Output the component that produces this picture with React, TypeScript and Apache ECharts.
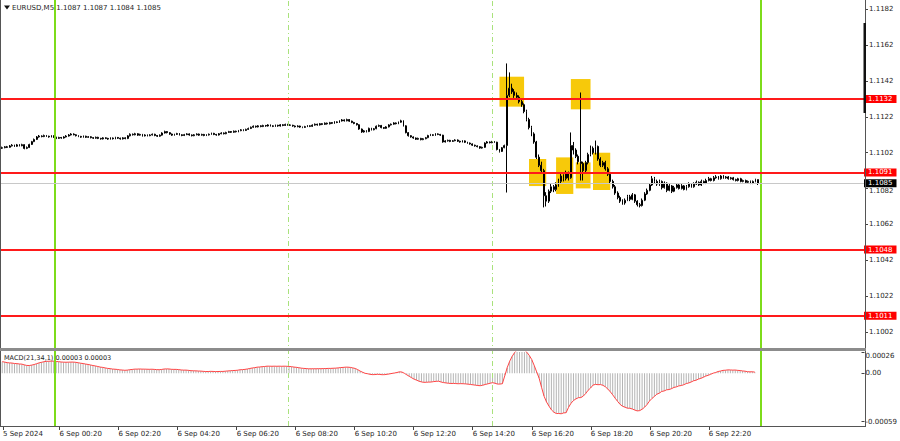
import React, { useEffect, useRef } from "react";
import * as echarts from "echarts";

// Prices are stored in pips above 1.1000 (price = 1.1000 + pips / 10000)
const BASE = 1.1;
const FIRST_OPEN = 104.5;

const closes = [
  104.8,105.3,105.0,105.8,106.2,105.6,106.4,105.9,106.5,
  104.4,104.9,
  106.6,108.2,109.4,110.8,
  111.3,111.0,111.6,111.2,110.8,111.4,110.6,
  110.0,110.5,110.2,110.8,111.3,
  111.9,112.4,112.0,111.5,111.1,
  110.7,111.2,110.6,110.9,110.4,110.1,110.6,110.0,109.7,110.3,110.0,109.6,110.2,109.8,110.5,110.1,109.7,110.3,109.9,
  111.4,112.3,112.0,112.6,
  111.8,112.2,111.4,111.9,111.5,111.9,112.3,111.6,111.2,111.8,
  113.0,113.8,113.2,
  112.4,111.8,112.2,112.7,112.0,111.6,112.1,112.5,111.9,111.5,112.0,112.4,111.8,112.2,111.6,111.9,112.3,112.8,112.2,111.9,112.6,
  113.0,112.6,113.3,113.8,113.4,114.0,113.7,114.3,114.8,114.4,115.0,115.5,
  116.2,116.8,116.4,117.0,116.6,117.2,116.9,117.5,117.0,116.7,117.3,116.9,117.6,117.2,117.8,
  117.5,117.3,116.9,116.5,116.9,116.3,116.1,
  116.6,117.0,116.7,117.4,117.9,117.5,118.2,117.8,118.5,118.1,118.8,118.4,119.2,118.9,119.7,120.3,
  119.8,120.5,119.6,118.9,118.3,117.6,
  115.2,113.6,114.2,113.8,
  115.6,114.8,115.4,116.8,
  117.2,116.0,115.6,116.4,
  117.5,117.9,118.6,118.2,119.0,119.8,
  117.0,113.2,111.5,
  110.8,110.2,109.5,110.0,109.3,109.8,110.4,
  111.6,112.0,111.7,112.5,112.2,111.8,
  108.0,
  108.6,108.9,108.3,108.7,109.1,108.4,108.0,108.6,107.8,107.4,
  106.9,106.2,105.8,105.4,104.6,105.0,
  107.4,108.0,107.6,108.2,107.9,
  103.8,102.7,104.8,106.0,
  134.0,138.0,136.0,134.0,133.0,130.5,128.8,125.0,120.5,116.0,
  112.5,108.0,99.5,95.0,92.0,78.0,75.0,80.5,83.0,81.5,
  84.0,86.0,89.0,87.5,90.5,88.0,106.0,103.5,100.0,97.0,
  96.0,92.0,96.5,101.0,104.5,102.0,105.5,98.5,95.0,96.5,
  93.0,90.0,86.0,83.0,79.5,77.0,75.0,74.0,75.5,77.5,
  76.0,78.5,75.0,73.0,72.5,75.5,79.0,81.0,84.0,87.5,
  86.0,84.5,86.0,82.5,85.0,81.0,83.5,80.5,82.5,84.0,
  82.0,83.5,81.5,83.0,84.5,83.0,84.5,85.5,84.0,86.0,
  85.0,86.5,87.5,86.5,88.0,88.5,87.5,89.0,88.0,88.5,
  87.5,88.0,87.0,86.5,87.5,86.0,86.5,85.5,86.0,85.0,
  86.0,87.0,85.0,
];

const highs = [
  105.4,105.7,105.8,106.3,106.8,106.5,106.9,106.8,107.0,
  106.7,105.5,
  107.0,108.6,109.9,111.3,
  111.9,111.7,112.1,111.9,111.5,111.8,111.7,
  110.9,110.9,110.8,111.2,111.8,
  112.4,112.9,112.8,112.3,111.8,
  111.4,111.6,111.5,111.3,111.2,110.7,111.0,110.9,110.3,110.7,110.6,110.3,110.6,110.5,110.9,110.8,110.4,110.7,110.6,
  111.8,112.8,112.7,113.1,
  112.9,112.6,112.5,112.3,112.2,112.3,112.7,112.6,111.9,112.2,
  113.4,114.3,114.1,
  113.5,112.7,112.6,113.1,113.0,112.3,112.5,112.9,112.8,112.2,112.4,112.8,112.7,112.6,112.5,112.3,112.7,113.2,113.1,112.5,113.0,
  113.4,113.3,113.7,114.2,114.1,114.4,114.3,114.7,115.2,115.1,115.4,116.0,
  116.6,117.2,117.1,117.4,117.3,117.6,117.5,117.9,117.8,117.3,117.7,117.6,118.0,117.9,118.2,
  118.1,117.9,117.6,117.2,117.3,117.1,116.6,
  117.0,117.4,117.3,117.8,118.3,118.2,118.6,118.5,118.9,118.8,119.2,119.1,119.6,119.5,120.1,120.8,
  120.6,121.0,120.8,119.9,119.2,118.6,
  117.9,115.5,114.7,114.6,
  116.0,115.9,115.8,117.2,
  117.7,117.5,116.3,116.8,
  117.9,118.3,119.0,118.9,119.4,120.4,
  120.1,117.3,113.5,
  111.8,111.1,110.5,110.4,110.3,110.2,110.8,
  112.0,112.5,112.3,112.9,112.8,112.5,
  112.0,
  109.0,109.3,109.2,109.1,109.5,109.4,108.7,109.0,108.9,108.1,
  107.7,107.2,106.5,106.1,105.7,105.4,
  107.8,108.5,108.3,108.6,108.5,
  108.1,104.1,105.2,106.5,
  151.8,146.8,140.5,137.5,135.6,134.0,131.5,129.5,126.0,121.5,
  117.0,113.4,108.6,101.0,97.0,93.0,80.0,81.5,84.5,84.0,
  85.5,87.5,90.5,90.0,92.0,91.5,113.3,108.0,104.5,101.0,
  135.6,97.0,97.5,102.0,106.0,105.5,108.8,106.0,99.5,97.5,
  97.5,94.0,91.0,87.0,84.0,80.5,78.0,76.0,76.5,78.5,
  78.5,79.5,79.0,75.5,74.0,76.5,80.0,82.0,85.0,89.0,
  88.5,87.0,87.0,86.5,86.0,85.5,84.5,84.0,83.5,85.0,
  84.5,84.5,84.0,84.0,85.5,85.0,85.5,86.5,86.0,87.0,
  86.5,87.5,88.5,88.0,89.0,89.5,89.0,89.5,89.5,89.0,
  89.0,88.5,88.5,87.5,88.0,88.0,87.0,87.0,86.5,86.5,
  86.5,87.5,87.0,
];

const lows = [
  104.1,104.5,104.6,104.8,105.5,105.2,105.3,105.5,105.6,
  103.9,104.0,
  104.6,106.3,107.9,109.1,
  110.4,110.6,110.7,110.8,110.4,110.5,110.2,
  109.6,109.7,109.8,109.9,110.5,
  111.0,111.6,111.7,111.1,110.7,
  110.3,110.4,110.2,110.3,110.0,109.7,109.8,109.6,109.3,109.4,109.6,109.2,109.3,109.4,109.5,109.7,109.3,109.4,109.5,
  109.6,111.1,111.6,111.7,
  111.4,111.5,111.0,111.1,111.1,111.2,111.6,111.2,110.8,110.9,
  111.5,112.7,112.8,
  112.0,111.4,111.5,111.9,111.6,111.2,111.3,111.8,111.5,111.1,111.2,111.7,111.4,111.5,111.2,111.3,111.6,112.0,111.8,111.5,111.6,
  112.3,112.2,112.3,113.0,113.0,113.1,113.3,113.4,114.0,114.0,114.1,114.7,
  115.2,115.9,116.0,116.1,116.2,116.3,116.5,116.6,116.6,116.3,116.4,116.5,116.6,116.8,116.9,
  117.1,116.9,116.5,116.1,116.2,115.9,115.7,
  115.8,116.3,116.3,116.4,117.1,117.1,117.2,117.4,117.5,117.7,117.8,118.0,118.1,118.5,118.6,119.4,
  119.4,119.5,119.2,118.5,117.9,117.2,
  114.8,113.1,113.2,113.3,
  113.5,114.4,114.5,115.1,
  116.4,115.6,115.2,115.3,
  116.1,117.2,117.6,117.8,117.9,118.7,
  116.6,112.8,111.0,
  110.4,109.8,109.1,109.2,108.9,109.0,109.5,
  110.1,111.3,111.3,111.4,111.8,111.4,
  107.6,
  107.7,108.2,107.9,108.0,108.4,108.0,107.6,107.7,107.4,107.0,
  106.5,105.8,105.4,105.0,104.2,104.3,
  104.7,107.1,107.2,107.3,107.5,
  103.3,102.1,102.4,104.5,
  79.8,133.0,134.8,132.6,131.5,129.5,127.6,124.0,119.5,115.0,
  111.2,107.0,98.5,94.0,90.5,71.5,72.0,74.0,79.5,80.0,
  80.5,83.0,85.0,86.0,86.5,86.5,87.5,101.0,99.0,95.5,
  86.5,86.5,91.0,95.5,100.0,101.0,101.0,97.5,94.0,94.0,
  92.0,89.0,85.0,82.0,78.5,76.0,74.0,73.0,73.0,75.0,
  75.0,75.5,74.0,72.0,71.5,72.0,75.0,78.5,80.5,83.5,
  85.0,83.5,83.5,81.5,82.0,80.0,80.5,79.5,80.0,82.0,
  81.5,81.5,81.0,81.0,82.5,82.5,82.5,84.0,83.5,83.5,
  84.5,84.5,86.0,86.0,86.0,87.5,87.0,87.0,87.5,87.5,
  87.0,87.0,86.5,86.0,86.0,85.5,85.5,85.0,85.0,84.5,
  84.5,85.5,84.0,
];

// MACD(21,34,1): EMA state carried in from before the visible window (pips)
const EMA_FAST_START = 104.5;
const EMA_SLOW_START = 103.0;
const FAST = 21;
const SLOW = 34;

const SLOT_COUNT = 351; // visible bar slots incl. the empty right margin
const START_MINUTE = 22 * 60 + 25; // 5 Sep 22:25, first visible bar

const tickIndex = [0, 23, 47, 71, 95, 119, 143, 167, 191, 215, 239, 263, 287];
const tickLabels = [
  "5 Sep 2024", "6 Sep 00:20", "6 Sep 02:20", "6 Sep 04:20", "6 Sep 06:20",
  "6 Sep 08:20", "6 Sep 10:20", "6 Sep 12:20", "6 Sep 14:20", "6 Sep 16:20",
  "6 Sep 18:20", "6 Sep 20:20", "6 Sep 22:20",
];

const levels = [1.1132, 1.1091, 1.1048, 1.1011];
const bidLevel = 1.1085;
const solidVLines = [21, 308];
const dashedVLines = [116, 199];
// [fromBar, toBar, lowPips, highPips]
const zones = [
  [202, 212, 127.7, 144.4],
  [231, 239, 126.2, 143.1],
  [214, 221, 83.4, 98.5],
  [225, 232, 79.0, 99.4],
  [233, 239, 82.1, 96.6],
  [240, 247, 81.2, 102.0],
];

const PRICE_MIN = 1.1002;
const PRICE_MAX = 1.1182;
const PRICE_STEP = 0.002;
const MACD_MIN = -0.00059;
const MACD_MAX = 0.00026;
const MACD_TEXT = "MACD(21,34,1) 0.00003 0.00003";

const FONT = '"DejaVu Sans", Tahoma, sans-serif';

const px = (p: number) => +(BASE + p / 10000).toFixed(5);

export default function App() {
  const ref = useRef<HTMLDivElement>(null);

  useEffect(() => {
    document.body.style.margin = "0";
    const el = ref.current;
    if (!el) return;
    const chart = echarts.init(el, null, { renderer: "svg" });

    const cats: string[] = [];
    for (let i = 0; i < SLOT_COUNT; i++) {
      const m = START_MINUTE + i * 5;
      const day = 5 + Math.floor(m / 1440);
      const mm = m % 1440;
      const hh = String(Math.floor(mm / 60)).padStart(2, "0");
      const mi = String(mm % 60).padStart(2, "0");
      cats.push(`${day} Sep ${hh}:${mi}`);
    }
    const labelMap = new Map<string, string>();
    tickIndex.forEach((idx, k) => labelMap.set(cats[idx], tickLabels[k]));
    const tickSet = new Set(tickIndex);

    const n = Math.min(closes.length, highs.length, lows.length);
    const candles: number[][] = [];
    for (let i = 0; i < n; i++) {
      const o = i === 0 ? FIRST_OPEN : closes[i - 1];
      const c = closes[i];
      const h = Math.max(highs[i], o, c);
      const l = Math.min(lows[i], o, c);
      candles.push([px(o), px(c), px(l), px(h)]);
    }

    const macd: number[] = [];
    let ef = EMA_FAST_START;
    let es = EMA_SLOW_START;
    const af = 2 / (FAST + 1);
    const as = 2 / (SLOW + 1);
    for (let i = 0; i < n; i++) {
      ef += af * (closes[i] - ef);
      es += as * (closes[i] - es);
      macd.push(+((ef - es) / 10000).toFixed(6));
    }

    const last = candles[candles.length - 1];
    const header = `EURUSD,M5 ${(last[0]).toFixed(4)} ${(last[3]).toFixed(4)} ${(last[2]).toFixed(4)} ${(last[1]).toFixed(4)}`;

    const axisText = { fontSize: 7, fontFamily: FONT, color: "#1e1e1e" };

    const tagLabel = (v: number, bg: string) => ({
      show: true,
      position: "end",
      distance: -1,
      formatter: () => v.toFixed(4),
      color: "#ffffff",
      backgroundColor: bg,
      padding: [0, 4, 0, 4],
      lineHeight: 8,
      fontSize: 7,
      fontFamily: FONT,
    });

    const option: any = {
      animation: false,
      backgroundColor: "#ffffff",
      grid: [
        { left: 1, right: 35, top: 0, height: 426 },
        { left: 1, right: 35, top: 9.3, height: 322.7 },
        { left: 1, right: 35, top: 352, height: 69.7 },
      ],
      xAxis: [
        {
          type: "category",
          gridIndex: 0,
          data: cats,
          boundaryGap: true,
          axisLine: { show: false },
          axisTick: {
            show: true,
            interval: (i: number) => tickSet.has(i),
            alignWithLabel: true,
            length: 4,
            lineStyle: { color: "#444" },
          },
          axisLabel: {
            ...axisText,
            interval: (i: number) => tickSet.has(i),
            formatter: (v: string) => labelMap.get(v) || "",
            align: "left",
            margin: 4,
          },
          splitLine: { show: false },
        },
        { type: "category", gridIndex: 1, data: cats, show: false, boundaryGap: true },
        { type: "category", gridIndex: 2, data: cats, show: false, boundaryGap: true },
      ],
      yAxis: [
        { type: "value", gridIndex: 0, min: 0, max: 1, show: false },
        {
          type: "value",
          gridIndex: 1,
          position: "right",
          min: PRICE_MIN,
          max: PRICE_MAX,
          interval: PRICE_STEP,
          axisLine: { show: false },
          axisTick: { show: true, length: 3, lineStyle: { color: "#444" } },
          splitLine: { show: false },
          axisLabel: {
            ...axisText,
            margin: 4,
            showMinLabel: true,
            showMaxLabel: true,
            formatter: (v: number) => {
              const s = v.toFixed(4);
              // the label just under the bid tag sits a little lower, as in the terminal
              return Math.abs(v - bidLevel) < 0.0005 ? `{b|${s}}` : s;
            },
            rich: { b: { fontSize: 7, fontFamily: FONT, color: "#1e1e1e", padding: [4, 0, 0, 0] } },
          },
        },
        {
          type: "value",
          gridIndex: 2,
          position: "right",
          min: MACD_MIN,
          max: MACD_MAX,
          interval: -MACD_MIN,
          axisLine: { show: false },
          axisTick: { show: true, length: 3, lineStyle: { color: "#444" } },
          splitLine: { show: false },
          axisLabel: {
            ...axisText,
            margin: 4,
            showMinLabel: true,
            showMaxLabel: true,
            formatter: (v: number) => {
              if (Math.abs(v) < 1e-9) return "0.00";
              if (Math.abs(v - MACD_MAX) < 1e-9) return `{t|${v.toFixed(5)}}`;
              return v.toFixed(5);
            },
            rich: { t: { fontSize: 7, fontFamily: FONT, color: "#1e1e1e", padding: [7, 0, 0, 0] } },
          },
        },
      ],
      series: [
        {
          type: "line",
          xAxisIndex: 0,
          yAxisIndex: 0,
          data: [],
          silent: true,
          markLine: {
            silent: true,
            symbol: ["none", "none"],
            label: { show: false },
            data: [
              ...solidVLines.map((x) => ({
                xAxis: x,
                lineStyle: { color: "#7ddc1a", width: 2, type: "solid" },
              })),
              ...dashedVLines.map((x) => ({
                xAxis: x,
                lineStyle: { color: "#a9e27c", width: 1, type: [5, 3, 1, 3] },
              })),
            ],
          },
        },
        {
          type: "line",
          xAxisIndex: 1,
          yAxisIndex: 1,
          data: [],
          silent: true,
          z: 1,
          markArea: {
            silent: true,
            itemStyle: { color: "#f7c90a" },
            data: zones.map((z) => [
              { xAxis: z[0], yAxis: px(z[2]) },
              { xAxis: z[1], yAxis: px(z[3]) },
            ]),
          },
        },
        {
          type: "candlestick",
          xAxisIndex: 1,
          yAxisIndex: 1,
          data: candles,
          barWidth: 1.4,
          clip: false,
          silent: true,
          z: 3,
          itemStyle: {
            color: "#ffffff",
            color0: "#000000",
            borderColor: "#000000",
            borderColor0: "#000000",
            borderWidth: 1,
          },
        },
        {
          type: "line",
          xAxisIndex: 1,
          yAxisIndex: 1,
          data: [],
          silent: true,
          z: 4,
          markLine: {
            silent: true,
            precision: 5,
            symbol: ["none", "none"],
            data: [
              {
                yAxis: bidLevel,
                lineStyle: { color: "#c8c8c8", width: 1, type: "solid" },
                label: tagLabel(bidLevel, "#000000"),
              },
              ...levels.map((v) => ({
                yAxis: v,
                lineStyle: { color: "#ff1a1a", width: 2, type: "solid" },
                label: tagLabel(v, "#ff0000"),
              })),
            ],
          },
        },
        {
          type: "bar",
          xAxisIndex: 2,
          yAxisIndex: 2,
          data: macd,
          barWidth: 1,
          silent: true,
          itemStyle: { color: "#b4b4b4" },
        },
        {
          type: "line",
          xAxisIndex: 2,
          yAxisIndex: 2,
          data: macd,
          symbol: "none",
          silent: true,
          lineStyle: { color: "#ff4444", width: 1 },
        },
      ],
      graphic: [
        { type: "line", z: 100, shape: { x1: 0.5, y1: 0, x2: 0.5, y2: 427 }, style: { stroke: "#555", lineWidth: 1 } },
        { type: "line", z: 100, shape: { x1: 865.5, y1: 0, x2: 865.5, y2: 427 }, style: { stroke: "#555", lineWidth: 1 } },
        { type: "line", z: 100, shape: { x1: 0, y1: 426.5, x2: 866, y2: 426.5 }, style: { stroke: "#555", lineWidth: 1 } },
        { type: "rect", z: 100, shape: { x: 0, y: 348, width: 866, height: 3 }, style: { fill: "#8c8c8c" } },
        { type: "rect", z: 100, shape: { x: 863.5, y: 23, width: 2.5, height: 90 }, style: { fill: "#111" } },
        { type: "polygon", z: 100, shape: { points: [[4, 5.5], [10, 5.5], [7, 9.5]] }, style: { fill: "#111" } },
        {
          type: "text",
          z: 100,
          x: 12,
          y: 8,
          style: { text: header, fill: "#1e1e1e", font: `7px ${FONT}`, verticalAlign: "middle" },
        },
        {
          type: "text",
          z: 100,
          x: 4,
          y: 358,
          style: { text: MACD_TEXT, fill: "#1e1e1e", font: `6.5px ${FONT}`, verticalAlign: "middle" },
        },
      ],
    };

    chart.setOption(option);
    return () => chart.dispose();
  }, []);

  return (
    <div
      ref={ref}
      style={{ position: "fixed", left: 0, top: 0, width: 900, height: 441, background: "#fff" }}
    />
  );
}
